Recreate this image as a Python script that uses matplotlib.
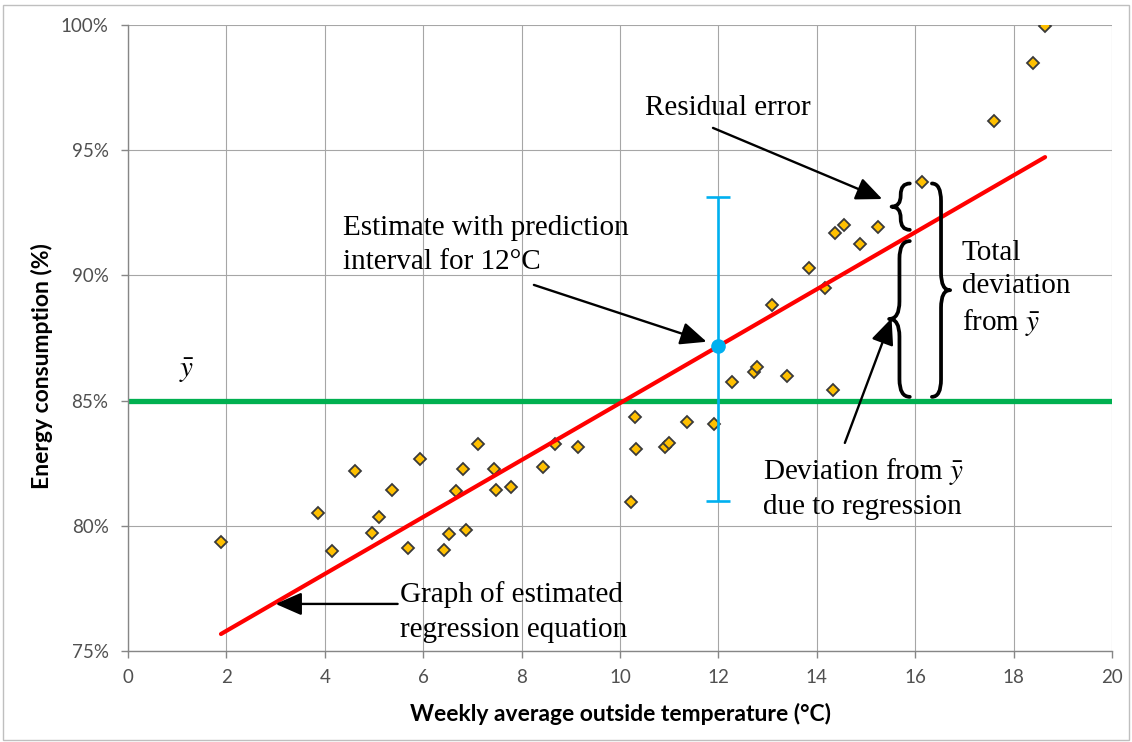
import matplotlib
matplotlib.use("Agg")
import matplotlib.pyplot as plt
from matplotlib.path import Path
from matplotlib.patches import PathPatch, Rectangle

# ---- data -------------------------------------------------------------
temperature = [1.89, 3.86, 4.14, 4.61, 4.95, 5.10, 5.37, 5.69, 5.93, 6.42,
               6.53, 6.67, 6.80, 6.88, 7.12, 7.44, 7.48, 7.78, 8.44, 8.68,
               9.15, 10.22, 10.31, 10.32, 10.91, 11.00, 11.37, 11.91, 12.28, 12.73,
               12.79, 13.08, 13.39, 13.84, 14.17, 14.33, 14.36, 14.55, 14.87, 15.24,
               16.13, 17.60, 18.39, 18.64]
consumption = [79.36, 80.52, 78.99, 82.19, 79.70, 80.34, 81.42, 79.13, 82.67, 79.03,
               79.67, 81.39, 82.27, 79.85, 83.27, 82.27, 81.43, 81.56, 82.36, 83.27,
               83.16, 80.96, 84.33, 83.07, 83.16, 83.32, 84.16, 84.05, 85.75, 86.13,
               86.34, 88.81, 85.97, 90.30, 89.50, 85.44, 91.71, 92.03, 91.24, 91.95,
               93.72, 96.17, 98.47, 99.96]

mean_consumption = 85.0          # y-bar
reg_intercept = 73.53            # estimated regression equation
reg_slope = 1.137
reg_x_range = [1.89, 18.64]

pred_temp = 12.0                 # prediction at 12 °C
pred_interval = [80.99, 93.13]

highlight_index = 40             # observation used to show the deviations

x_ticks = [0, 2, 4, 6, 8, 10, 12, 14, 16, 18, 20]
y_ticks = [75, 80, 85, 90, 95, 100]
y_tick_labels = ["75%", "80%", "85%", "90%", "95%", "100%"]

# ---- style ------------------------------------------------------------
W, H = 1132, 742
plt.rcParams["mathtext.fontset"] = "stix"
SANS = ["Lato", "DejaVu Sans"]
SERIF = ["Liberation Serif", "DejaVu Serif"]
GOLD = "#FFC000"
RED = "#FF0000"
GREEN = "#00B050"
BLUE = "#00B0F0"
GRID = "#A6A6A6"
TICK_TXT = "#505050"

fig = plt.figure(figsize=(W / 100, H / 100), dpi=100)
ax = fig.add_axes([128 / W, 1 - 651 / H, (1112 - 128) / W, (651 - 25) / H])

# chart border
fig.patches.append(Rectangle((3 / W, 2 / H), 1126 / W, 735 / H,
                             transform=fig.transFigure, fill=False,
                             edgecolor="#BFBFBF", lw=1.0))

ax.set_xlim(0, 20)
ax.set_ylim(75, 100)
ax.set_xticks(x_ticks)
ax.set_yticks(y_ticks)
ax.set_yticklabels(y_tick_labels)
ax.grid(True, color=GRID, lw=0.8, zorder=0)
ax.set_axisbelow(True)
for side in ("top", "right"):
    ax.spines[side].set_visible(False)
for side in ("left", "bottom"):
    ax.spines[side].set_color("#868686")
    ax.spines[side].set_linewidth(1.0)
ax.tick_params(axis="both", colors="#868686", length=5, width=1,
               labelcolor=TICK_TXT, labelsize=13.5)
ax.tick_params(axis="y", pad=9)
ax.tick_params(axis="x", pad=8)
for lab in ax.get_xticklabels() + ax.get_yticklabels():
    lab.set_family(SANS)

ax.set_xlabel("Weekly average outside temperature (°C)", family=SANS,
              fontweight="bold", fontsize=16.5, va="center")
ax.xaxis.set_label_coords(0.5, -0.1006)
ax.set_ylabel("Energy consumption (%)", family=SANS,
              fontweight="bold", fontsize=16.5, va="center")
ax.yaxis.set_label_coords(-0.0877, 0.455)

# ---- marks ------------------------------------------------------------
ax.axhline(mean_consumption, color=GREEN, lw=3.8, zorder=2)

ax.plot(temperature, consumption, linestyle="none", marker="D", ms=6.2,
        mfc=GOLD, mec="#3A3A3A", mew=1.3, zorder=3)

reg_y = [reg_intercept + reg_slope * x for x in reg_x_range]
ax.plot(reg_x_range, reg_y, color=RED, lw=3.0, solid_capstyle="round", zorder=4)

pred_y = reg_intercept + reg_slope * pred_temp
ax.errorbar([pred_temp], [pred_y],
            yerr=[[pred_y - pred_interval[0]], [pred_interval[1] - pred_y]],
            fmt="none", ecolor=BLUE, elinewidth=1.9, capsize=8.3, capthick=1.9,
            zorder=5)
ax.plot([pred_temp], [pred_y], marker="o", ms=9.5, color=BLUE, zorder=6)


# ---- braces -----------------------------------------------------------
def brace(x_end, x_tip, y0, y1, r):
    xm = (x_end + x_tip) / 2
    ym = (y0 + y1) / 2
    verts = [(x_end, y1), (xm, y1), (xm, y1 - r),
             (xm, ym + r), (xm, ym), (x_tip, ym),
             (xm, ym), (xm, ym - r),
             (xm, y0 + r), (xm, y0), (x_end, y0)]
    codes = [Path.MOVETO, Path.CURVE3, Path.CURVE3,
             Path.LINETO, Path.CURVE3, Path.CURVE3,
             Path.CURVE3, Path.CURVE3,
             Path.LINETO, Path.CURVE3, Path.CURVE3]
    ax.add_patch(PathPatch(Path(verts, codes), fill=False, lw=2.7,
                           edgecolor="black", capstyle="round",
                           joinstyle="round", zorder=7))


hx = temperature[highlight_index]
hy = consumption[highlight_index]
hy_fit = reg_intercept + reg_slope * hx
brace(hx - 0.24, hx - 0.61, hy_fit - 0.05, hy - 0.05, 0.45)
brace(hx - 0.24, hx - 0.66, mean_consumption + 0.15, hy_fit - 0.5, 0.7)
brace(hx + 0.21, hx + 0.58, mean_consumption + 0.15, hy - 0.05, 0.7)

# ---- annotations ------------------------------------------------------
txt = dict(family=SERIF, fontsize=21, color="black", zorder=8)
arrow = dict(arrowstyle="-|>,head_length=0.8,head_width=0.35",
             mutation_scale=20, lw=1.7, color="black", shrinkA=0, shrinkB=0)

ax.text(10.50, 96.69, "Residual error", ha="left", va="center", **txt)
ax.annotate("", xy=(15.33, 93.05), xytext=(11.89, 95.89), arrowprops=arrow,
            zorder=8)

ax.text(4.37, 91.21, "Estimate with prediction\ninterval for 12°C",
        ha="left", va="center", linespacing=1.4, **txt)
ax.annotate("", xy=(11.76, 87.35), xytext=(8.25, 89.62), arrowprops=arrow,
            zorder=8)

ax.text(16.95, 89.46, "Total\ndeviation\nfrom $\\bar{y}$",
        ha="left", va="center", linespacing=1.33, **txt)

ax.text(12.91, 81.51, "Deviation from $\\bar{y}$\ndue to regression",
        ha="left", va="center", linespacing=1.38, **txt)
ax.annotate("", xy=(15.52, 88.29), xytext=(14.57, 83.31), arrowprops=arrow,
            zorder=8)

ax.text(5.53, 76.56, "Graph of estimated\nregression equation",
        ha="left", va="center", linespacing=1.42, **txt)
ax.annotate("", xy=(3.0, 76.88), xytext=(5.48, 76.88), arrowprops=arrow,
            zorder=8)

ax.text(1.18, 86.18, "$\\bar{y}$", ha="center", va="center", **txt)

fig.savefig("out.png", dpi=100)
